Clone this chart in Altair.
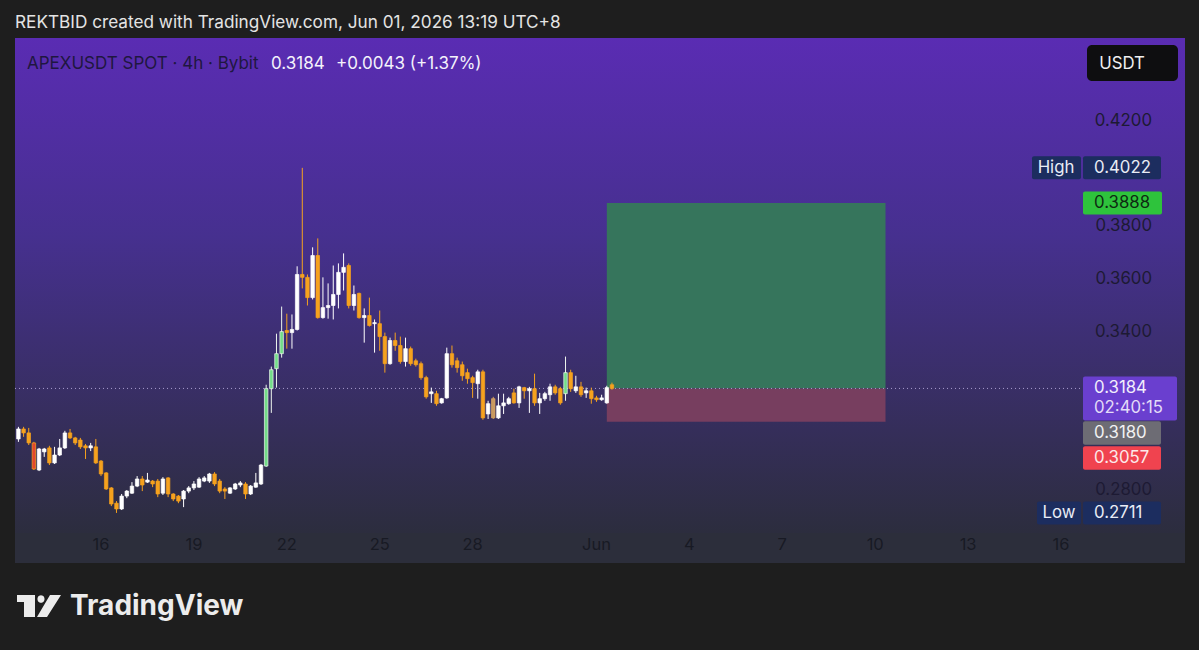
import altair as alt
import pandas as pd

# ---------------- data (APEXUSDT 4h candles, first bar 2026-05-13 08:00 UTC+8) ----------------
first_bar = "2026-05-13 08:00"
opens = [
    0.2992, 0.3030, 0.3015, 0.2977, 0.2874, 0.2943, 0.2958, 0.2901, 0.2931, 0.2958,
    0.3015, 0.2996, 0.2988, 0.2966, 0.2958, 0.2962, 0.2908, 0.2863, 0.2806, 0.2748,
    0.2726, 0.2775, 0.2786, 0.2813, 0.2840, 0.2828, 0.2832, 0.2832, 0.2786, 0.2844,
    0.2783, 0.2775, 0.2764, 0.2794, 0.2806, 0.2809, 0.2832, 0.2832, 0.2859, 0.2832,
    0.2802, 0.2786, 0.2802, 0.2817, 0.2821, 0.2783, 0.2809, 0.2821, 0.2889, 0.3183,
    0.3259, 0.3316, 0.3404, 0.3396, 0.3408, 0.3617, 0.3606, 0.3529, 0.3689, 0.3453,
    0.3491, 0.3499, 0.3541, 0.3625, 0.3651, 0.3499, 0.3545, 0.3453, 0.3461, 0.3430,
    0.3430, 0.3381, 0.3278, 0.3366, 0.3347, 0.3286, 0.3335, 0.3289, 0.3278, 0.3225,
    0.3164, 0.3164, 0.3129, 0.3148, 0.3316, 0.3289, 0.3274, 0.3244, 0.3225, 0.3202,
    0.3247, 0.3087, 0.3145, 0.3072, 0.3118, 0.3126, 0.3167, 0.3129, 0.3187, 0.3175,
    0.3183, 0.3129, 0.3145, 0.3160, 0.3190, 0.3183, 0.3164, 0.3244, 0.3175, 0.3190,
    0.3167, 0.3175, 0.3148, 0.3141, 0.3129, 0.3198,
]
highs = [
    0.3038, 0.3038, 0.3034, 0.2981, 0.2958, 0.2958, 0.2966, 0.2962, 0.2992, 0.3023,
    0.3030, 0.3000, 0.2996, 0.2973, 0.2977, 0.2992, 0.2912, 0.2866, 0.2809, 0.2756,
    0.2783, 0.2798, 0.2828, 0.2851, 0.2851, 0.2863, 0.2836, 0.2840, 0.2847, 0.2847,
    0.2786, 0.2779, 0.2798, 0.2813, 0.2832, 0.2847, 0.2851, 0.2863, 0.2866, 0.2840,
    0.2809, 0.2809, 0.2825, 0.2832, 0.2828, 0.2817, 0.2863, 0.2897, 0.3198, 0.3267,
    0.3392, 0.3495, 0.3468, 0.3465, 0.3648, 0.4022, 0.3617, 0.3720, 0.3754, 0.3606,
    0.3583, 0.3651, 0.3659, 0.3697, 0.3659, 0.3575, 0.3548, 0.3488, 0.3529, 0.3446,
    0.3480, 0.3396, 0.3377, 0.3396, 0.3381, 0.3377, 0.3343, 0.3297, 0.3286, 0.3232,
    0.3187, 0.3175, 0.3148, 0.3339, 0.3347, 0.3301, 0.3286, 0.3259, 0.3232, 0.3255,
    0.3255, 0.3137, 0.3152, 0.3164, 0.3164, 0.3152, 0.3183, 0.3194, 0.3190, 0.3190,
    0.3240, 0.3167, 0.3171, 0.3202, 0.3198, 0.3190, 0.3305, 0.3255, 0.3232, 0.3209,
    0.3187, 0.3187, 0.3156, 0.3160, 0.3194, 0.3206,
]
lows = [
    0.2981, 0.3000, 0.2969, 0.2874, 0.2870, 0.2924, 0.2893, 0.2897, 0.2927, 0.2954,
    0.2992, 0.2969, 0.2954, 0.2916, 0.2946, 0.2897, 0.2851, 0.2798, 0.2737, 0.2711,
    0.2722, 0.2767, 0.2783, 0.2809, 0.2794, 0.2825, 0.2809, 0.2771, 0.2779, 0.2771,
    0.2756, 0.2748, 0.2733, 0.2786, 0.2798, 0.2806, 0.2828, 0.2825, 0.2813, 0.2786,
    0.2764, 0.2783, 0.2798, 0.2809, 0.2764, 0.2779, 0.2806, 0.2817, 0.2886, 0.3091,
    0.3187, 0.3301, 0.3335, 0.3335, 0.3404, 0.3564, 0.3499, 0.3522, 0.3449, 0.3449,
    0.3449, 0.3446, 0.3488, 0.3556, 0.3488, 0.3480, 0.3449, 0.3358, 0.3419, 0.3320,
    0.3327, 0.3244, 0.3274, 0.3327, 0.3278, 0.3267, 0.3270, 0.3267, 0.3217, 0.3145,
    0.3129, 0.3118, 0.3126, 0.3145, 0.3263, 0.3244, 0.3213, 0.3202, 0.3148, 0.3145,
    0.3065, 0.3068, 0.3068, 0.3068, 0.3087, 0.3122, 0.3126, 0.3110, 0.3145, 0.3091,
    0.3118, 0.3087, 0.3137, 0.3137, 0.3160, 0.3122, 0.3137, 0.3171, 0.3167, 0.3152,
    0.3148, 0.3126, 0.3133, 0.3137, 0.3126, 0.3179,
]
closes = [
    0.3030, 0.3015, 0.2977, 0.2878, 0.2954, 0.2954, 0.2901, 0.2931, 0.2958, 0.3015,
    0.2996, 0.2977, 0.2962, 0.2958, 0.2966, 0.2901, 0.2859, 0.2802, 0.2745, 0.2726,
    0.2775, 0.2794, 0.2813, 0.2840, 0.2817, 0.2836, 0.2821, 0.2783, 0.2840, 0.2783,
    0.2764, 0.2756, 0.2794, 0.2806, 0.2821, 0.2840, 0.2844, 0.2859, 0.2821, 0.2794,
    0.2794, 0.2806, 0.2821, 0.2825, 0.2783, 0.2813, 0.2825, 0.2893, 0.3183, 0.3255,
    0.3316, 0.3400, 0.3396, 0.3408, 0.3617, 0.3606, 0.3529, 0.3689, 0.3453, 0.3491,
    0.3499, 0.3541, 0.3625, 0.3644, 0.3499, 0.3541, 0.3453, 0.3461, 0.3423, 0.3434,
    0.3381, 0.3278, 0.3366, 0.3347, 0.3286, 0.3335, 0.3278, 0.3274, 0.3225, 0.3152,
    0.3171, 0.3126, 0.3145, 0.3316, 0.3274, 0.3263, 0.3232, 0.3221, 0.3206, 0.3247,
    0.3072, 0.3126, 0.3072, 0.3118, 0.3129, 0.3145, 0.3129, 0.3190, 0.3175, 0.3183,
    0.3129, 0.3145, 0.3164, 0.3190, 0.3167, 0.3129, 0.3244, 0.3183, 0.3190, 0.3160,
    0.3175, 0.3145, 0.3141, 0.3148, 0.3187, 0.3184,
]
green_bars = [48, 49, 50, 51, 106]   # highlighted up bars
red_bars = [3]                       # highlighted down bar
tan_bars = [92]

# long position tool
pos_start = "2026-06-01 08:00"
pos_end = "2026-06-10 08:00"
entry_price = 0.3184
target_price = 0.3888
stop_price = 0.3057

# axes
y_ticks = [0.42, 0.38, 0.36, 0.34, 0.28]
x_tick_dates = ["2026-05-16", "2026-05-19", "2026-05-22", "2026-05-25", "2026-05-28",
                "2026-06-01", "2026-06-04", "2026-06-07", "2026-06-10", "2026-06-13", "2026-06-16"]
x_tick_labels = ["16", "19", "22", "25", "28", "Jun", "4", "7", "10", "13", "16"]

# ---------------- build tables ----------------
origin = pd.Timestamp("2026-05-16 00:00")
def day(ts):
    return (pd.Timestamp(ts) - origin) / pd.Timedelta(days=1)

times = pd.date_range(first_bar, periods=len(opens), freq="4h")
UP, DOWN = "#ffffff", "#f6a21e"
fills, strokes = [], []
for i, (o, c) in enumerate(zip(opens, closes)):
    if i in green_bars:
        fills.append("#72dc88"); strokes.append("#eef6ee")
    elif i in red_bars:
        fills.append("#e4472f"); strokes.append(DOWN)
    elif i in tan_bars:
        fills.append("#c99a60"); strokes.append("#d9a562")
    elif c >= o:
        fills.append(UP); strokes.append(UP)
    else:
        fills.append(DOWN); strokes.append(DOWN)

candles = pd.DataFrame({
    "d": [day(t) for t in times], "o": opens, "h": highs, "l": lows, "c": closes,
    "fill": fills, "stroke": strokes,
})

xs = alt.Scale(domain=[0, 31], range=[101, 1061], nice=False, zero=False, padding=0)
ys = alt.Scale(domain=[0.28, 0.42], range=[489.5, 121], nice=False, zero=False, padding=0)
FONT = "Inter"
one = pd.DataFrame({"a": [0]})

def X(f):
    return alt.X(f, type="quantitative", scale=xs, axis=None)
def Y(f):
    return alt.Y(f, type="quantitative", scale=ys, axis=None)

grad = alt.Gradient(
    gradient="linear", x1=0, x2=0, y1=0, y2=1,
    stops=[alt.GradientStop(color="#5a2cb3", offset=0),
           alt.GradientStop(color="#46308f", offset=0.4),
           alt.GradientStop(color="#2c2d3e", offset=1)],
)
panel = alt.Chart(one).mark_rect(fill=grad).encode(
    x=alt.value(15), x2=alt.value(1185), y=alt.value(38), y2=alt.value(533))
strip = alt.Chart(one).mark_rect(fill="#2c2e3b").encode(
    x=alt.value(15), x2=alt.value(1185), y=alt.value(533), y2=alt.value(563))

pos = pd.DataFrame({"d0": [day(pos_start)], "d1": [day(pos_end)],
                    "e": [entry_price], "t": [target_price], "s": [stop_price]})
pos_green = alt.Chart(pos).mark_rect(fill="#36755c").encode(
    x=X("d0"), x2="d1", y=Y("t"), y2="e")
pos_red = alt.Chart(pos).mark_rect(fill="#773e5f").encode(
    x=X("d0"), x2="d1", y=Y("e"), y2="s")

price_line = alt.Chart(pd.DataFrame({"p": [entry_price]})).mark_rule(
    strokeDash=[1, 3], color="#a89ccf", strokeWidth=1).encode(
    y=Y("p"), x=alt.value(15), x2=alt.value(1082))

wicks = alt.Chart(candles).mark_rule(strokeWidth=1).encode(
    x=X("d"), y=Y("l"), y2="h", color=alt.Color("stroke:N", scale=None))
bodies = alt.Chart(candles).mark_bar(width=3.5, strokeWidth=0.7).encode(
    x=X("d"), y=Y("o"), y2="c",
    fill=alt.Fill("fill:N", scale=None), stroke=alt.Stroke("stroke:N", scale=None))

ylab = alt.Chart(pd.DataFrame({"p": y_ticks, "t": [f"{p:.4f}" for p in y_ticks]})).mark_text(
    align="right", baseline="middle", font=FONT, fontSize=16.8, color="#1d1a33").encode(
    y=Y("p"), x=alt.value(1152), text="t:N")
xlab = alt.Chart(pd.DataFrame({"d": [day(t) for t in x_tick_dates], "t": x_tick_labels})).mark_text(
    align="center", baseline="middle", font=FONT, fontSize=16.5, color="#181a24").encode(
    x=X("d"), y=alt.value(545), text="t:N")

def price_box(price, x1, x2, fill, dy1=-11.5, dy2=11.5):
    return alt.Chart(pd.DataFrame({"p": [price]})).mark_rect(
        fill=fill, cornerRadius=2, yOffset=dy1, y2Offset=dy2).encode(
        x=alt.value(x1), x2=alt.value(x2), y=Y("p"), y2="p")

def price_text(price, x, text, color, dy=0, align="left"):
    return alt.Chart(pd.DataFrame({"p": [price], "t": [text]})).mark_text(
        align=align, baseline="middle", font=FONT, fontSize=16.8, color=color, dy=dy).encode(
        x=alt.value(x), y=Y("p"), text="t:N")

def pix_box(yc, x1, x2, fill, h=23.5):
    return alt.Chart(one).mark_rect(fill=fill, cornerRadius=2).encode(
        x=alt.value(x1), x2=alt.value(x2), y=alt.value(yc - h / 2), y2=alt.value(yc + h / 2))

def pix_text(yc, x, text, color, size=16.8, align="left", weight="normal"):
    return alt.Chart(one).mark_text(
        align=align, baseline="middle", font=FONT, fontSize=size, color=color,
        fontWeight=weight, text=text).encode(x=alt.value(x), y=alt.value(yc))

high_p, low_p = max(highs), min(lows)
NAVY = "#1c2d5f"
labels = [
    price_box(high_p, 1032, 1081, NAVY), price_box(high_p, 1083, 1161, NAVY),
    price_text(high_p, 1056, "High", "#e9ecf5", align="center"),
    price_text(high_p, 1094, f"{high_p:.4f}", "#e9ecf5"),
    price_box(target_price, 1083, 1162, "#2ec33c"),
    price_text(target_price, 1094, f"{target_price:.4f}", "#0e2a12"),
    price_box(entry_price, 1083, 1177, "#6a3fcf", dy1=-12, dy2=32),
    price_text(entry_price, 1094, f"{entry_price:.4f}", "#f2eefc"),
    price_text(entry_price, 1094, "02:40:15", "#e3dcf8", dy=20),
    pix_box(433, 1083, 1161, "#6d6c74"),
    pix_text(433, 1094, "0.3180", "#f2f2f2"),
    pix_box(458, 1083, 1161, "#f0434f"),
    pix_text(458, 1094, f"{stop_price:.4f}", "#fde9ea"),
    price_box(low_p, 1037, 1081, NAVY), price_box(low_p, 1083, 1161, NAVY),
    price_text(low_p, 1059, "Low", "#e9ecf5", align="center"),
    price_text(low_p, 1094, f"{low_p:.4f}", "#e9ecf5"),
]

usdt_box = alt.Chart(one).mark_rect(fill="#0e0e10", cornerRadius=5).encode(
    x=alt.value(1087), x2=alt.value(1178), y=alt.value(45), y2=alt.value(81))

texts = [
    pix_text(23, 15, "REKTBID created with TradingView.com, Jun 01, 2026 13:19 UTC+8", "#e4e4e4", size=17.2),
    pix_text(64, 27, "APEXUSDT SPOT · 4h · Bybit", "#1f1740", size=17),
    pix_text(64, 271, "0.3184", "#f4f2fb", size=17),
    pix_text(64, 336, "+0.0043 (+1.37%)", "#f4f2fb", size=17),
    pix_text(64, 1122, "USDT", "#f0f0f0", size=16.8, align="center"),
    pix_text(607, 70, "TradingView", "#ececec", size=28, weight="bold"),
]

logo_path = ("M-0.978,-0.489H-0.178V0.489H-0.667V-0.178H-0.978Z "
             "M-0.067,-0.311a0.156,0.156 0 1,0 0.311,0a0.156,0.156 0 1,0 -0.311,0Z "
             "M-0.089,0.489L0.356,0.489L0.978,-0.489L0.489,-0.489Z")
logo = alt.Chart(one).mark_point(shape=logo_path, filled=True, fill="#ececec",
                                 opacity=1, size=2025, strokeWidth=0).encode(
    x=alt.value(39), y=alt.value(606))

chart = alt.layer(
    panel, strip, pos_green, pos_red, price_line, wicks, bodies, ylab, xlab,
    *labels, usdt_box, *texts, logo,
).properties(
    width=1199, height=650, padding=0,
    autosize=alt.AutoSizeParams(type="none"), background="#1e1e1e",
).configure_view(stroke=None)

chart.save("out.html", embed_options={"renderer": "svg", "actions": False})
